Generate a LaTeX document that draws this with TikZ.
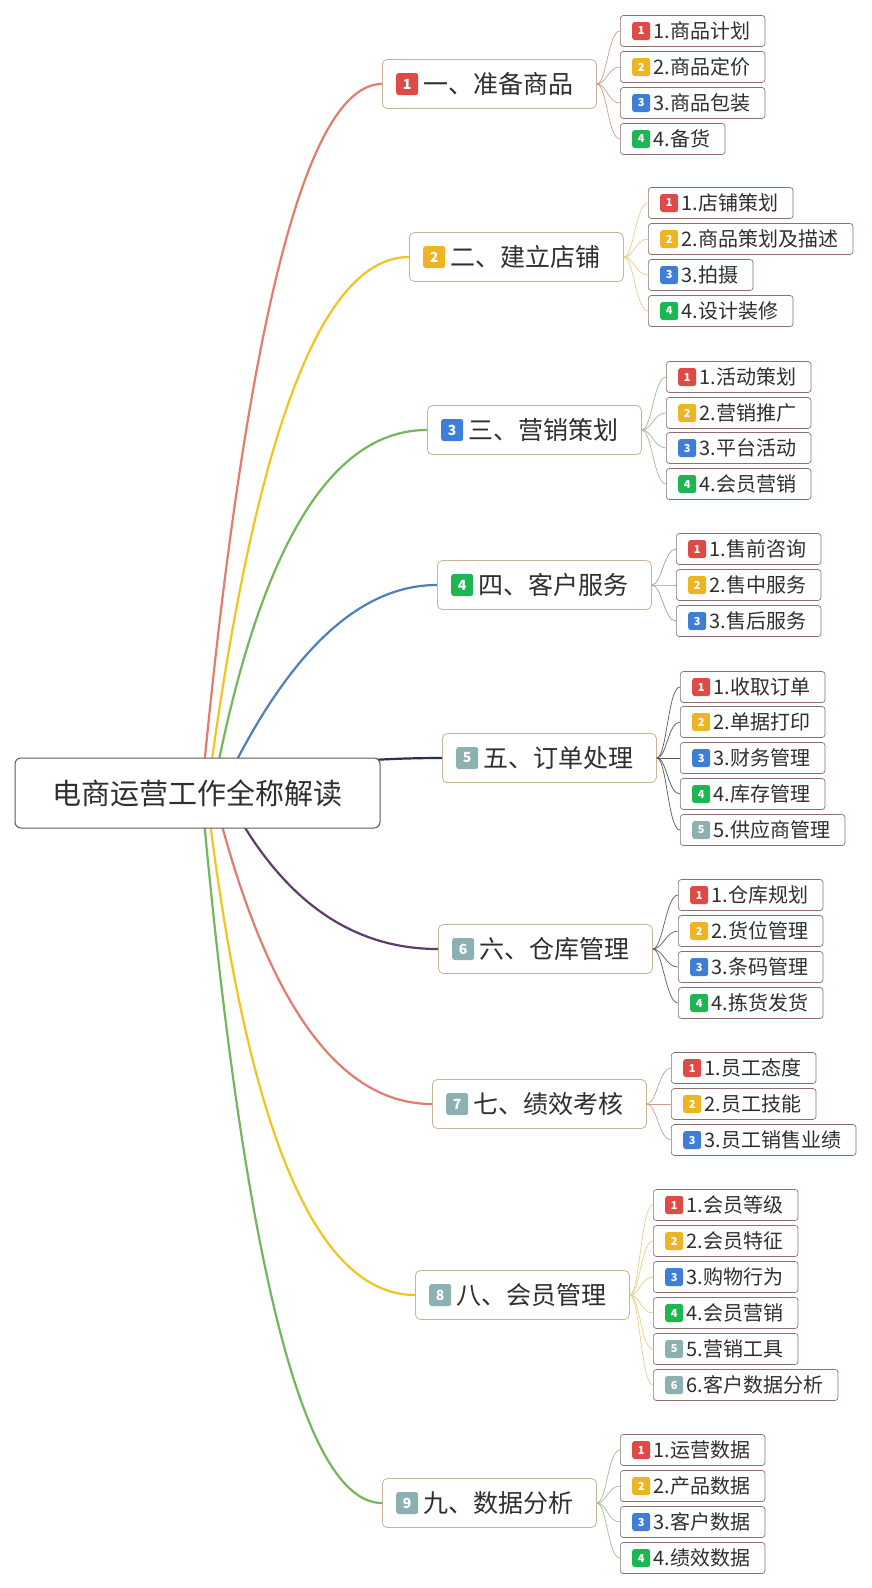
\documentclass[tikz,border=0pt]{standalone}
\usepackage{fontspec}
\setmainfont{Noto Sans CJK SC}
\usepackage{tikz}
\usetikzlibrary{backgrounds}

\definecolor{tagR}{HTML}{DE4B47}
\definecolor{tagY}{HTML}{EDB523}
\definecolor{tagB}{HTML}{3F7ED6}
\definecolor{tagG}{HTML}{1EB653}
\definecolor{tagC}{HTML}{8DB0B0}
\definecolor{ink}{HTML}{2F2F2F}
\definecolor{rootline}{HTML}{5A5A5A}
\definecolor{boxline}{HTML}{C8B596}
\definecolor{leafline}{HTML}{8C7070}
\definecolor{lnA}{HTML}{E37C6F}
\definecolor{lnB}{HTML}{F2C41E}
\definecolor{lnC}{HTML}{76B65A}
\definecolor{lnD}{HTML}{4D80B9}
\definecolor{lnE}{HTML}{2F2D5C}
\definecolor{lnF}{HTML}{5F3B6B}
\definecolor{twA}{HTML}{C9A08E}
\definecolor{twB}{HTML}{E3D08A}
\definecolor{twC}{HTML}{A6B996}
\definecolor{twD}{HTML}{98A0AE}
\definecolor{twE}{HTML}{55555E}
\definecolor{twF}{HTML}{625A6C}

\begin{document}
\begin{tikzpicture}[x=1pt, y=-1pt,
  tag/.style={draw=none, text=white, rounded corners=2.5pt, inner sep=0pt,
    execute at begin node={}, execute at end node={}},
  hub/.style={draw=rootline, line width=1pt, fill=white, rounded corners=6pt,
    minimum width=365pt, minimum height=70pt, text=ink,
    font=\fontsize{29}{34}\selectfont},
  topic/.style 2 args={draw=boxline, line width=0.8pt, fill=white,
    rounded corners=5pt, anchor=west, minimum height=49pt, inner xsep=17pt,
    text=ink, font=\fontsize{25}{30}\selectfont,
    execute at begin node={\hspace*{24pt}}, execute at end node={\hspace*{6pt}},
    label={[tag, fill=#1, minimum size=22pt, anchor=west, xshift=14pt,
      font=\fontsize{14}{14}\selectfont\bfseries]west:#2}},
  leaf/.style 2 args={draw=leafline, line width=0.7pt, fill=white,
    rounded corners=3pt, anchor=west, minimum height=31pt, inner xsep=13pt,
    text=ink, font=\fontsize{20}{24}\selectfont,
    execute at begin node={\hspace*{20pt}}, execute at end node={\hspace*{2pt}},
    label={[tag, fill=#1, minimum size=18pt, anchor=west, xshift=12pt,
      font=\fontsize{11}{11}\selectfont\bfseries]west:#2}},
  bough/.style={line width=2.2pt, #1},
  twig/.style={line width=0.7pt, #1,
    to path={.. controls +(10,0) and +(-12,0) .. (\tikztotarget)}}]

  \useasboundingbox (0,0) rectangle (872,1588);

  \node[hub] (root) at (197.5,793) {电商运营工作全称解读};

  \node[topic={tagR}{1}] (b1) at (382,84) {一、准备商品};
  \node[topic={tagY}{2}] (b2) at (409,257) {二、建立店铺};
  \node[topic={tagB}{3}] (b3) at (427,430) {三、营销策划};
  \node[topic={tagG}{4}] (b4) at (437,585) {四、客户服务};
  \node[topic={tagC}{5}] (b5) at (442,758) {五、订单处理};
  \node[topic={tagC}{6}] (b6) at (438,949) {六、仓库管理};
  \node[topic={tagC}{7}] (b7) at (432,1104) {七、绩效考核};
  \node[topic={tagC}{8}] (b8) at (415,1295) {八、会员管理};
  \node[topic={tagC}{9}] (b9) at (382,1503) {九、数据分析};

  % 一
  \node[leaf={tagR}{1}] (l11) at (620,31) {1.商品计划};
  \node[leaf={tagY}{2}] (l12) at (620,67) {2.商品定价};
  \node[leaf={tagB}{3}] (l13) at (620,103) {3.商品包装};
  \node[leaf={tagG}{4}] (l14) at (620,139) {4.备货};
  % 二
  \node[leaf={tagR}{1}] (l21) at (648,203) {1.店铺策划};
  \node[leaf={tagY}{2}] (l22) at (648,239) {2.商品策划及描述};
  \node[leaf={tagB}{3}] (l23) at (648,275) {3.拍摄};
  \node[leaf={tagG}{4}] (l24) at (648,311) {4.设计装修};
  % 三
  \node[leaf={tagR}{1}] (l31) at (666,377) {1.活动策划};
  \node[leaf={tagY}{2}] (l32) at (666,413) {2.营销推广};
  \node[leaf={tagB}{3}] (l33) at (666,448) {3.平台活动};
  \node[leaf={tagG}{4}] (l34) at (666,484) {4.会员营销};
  % 四
  \node[leaf={tagR}{1}] (l41) at (676,549) {1.售前咨询};
  \node[leaf={tagY}{2}] (l42) at (676,585) {2.售中服务};
  \node[leaf={tagB}{3}] (l43) at (676,621) {3.售后服务};
  % 五
  \node[leaf={tagR}{1}] (l51) at (680,687) {1.收取订单};
  \node[leaf={tagY}{2}] (l52) at (680,722) {2.单据打印};
  \node[leaf={tagB}{3}] (l53) at (680,758) {3.财务管理};
  \node[leaf={tagG}{4}] (l54) at (680,794) {4.库存管理};
  \node[leaf={tagC}{5}] (l55) at (680,830) {5.供应商管理};
  % 六
  \node[leaf={tagR}{1}] (l61) at (678,895) {1.仓库规划};
  \node[leaf={tagY}{2}] (l62) at (678,931) {2.货位管理};
  \node[leaf={tagB}{3}] (l63) at (678,967) {3.条码管理};
  \node[leaf={tagG}{4}] (l64) at (678,1003) {4.拣货发货};
  % 七
  \node[leaf={tagR}{1}] (l71) at (671,1068) {1.员工态度};
  \node[leaf={tagY}{2}] (l72) at (671,1104) {2.员工技能};
  \node[leaf={tagB}{3}] (l73) at (671,1140) {3.员工销售业绩};
  % 八
  \node[leaf={tagR}{1}] (l81) at (653,1205) {1.会员等级};
  \node[leaf={tagY}{2}] (l82) at (653,1241) {2.会员特征};
  \node[leaf={tagB}{3}] (l83) at (653,1277) {3.购物行为};
  \node[leaf={tagG}{4}] (l84) at (653,1313) {4.会员营销};
  \node[leaf={tagC}{5}] (l85) at (653,1349) {5.营销工具};
  \node[leaf={tagC}{6}] (l86) at (653,1385) {6.客户数据分析};
  % 九
  \node[leaf={tagR}{1}] (l91) at (620,1450) {1.运营数据};
  \node[leaf={tagY}{2}] (l92) at (620,1486) {2.产品数据};
  \node[leaf={tagB}{3}] (l93) at (620,1522) {3.客户数据};
  \node[leaf={tagG}{4}] (l94) at (620,1558) {4.绩效数据};

  \begin{scope}[on background layer]
    \fill[white] (0,0) rectangle (872,1588);
    % root to topics
    \draw[bough=lnA] ([xshift=4pt]root.center) .. controls +(44.7,-472.7) and +(-75.3,0) .. (b1.west);
    \draw[bough=lnB] ([xshift=10pt]root.center) .. controls +(46.7,-357.3) and +(-88,0) .. (b2.west);
    \draw[bough=lnC] ([xshift=15pt]root.center) .. controls +(45.3,-242) and +(-98,0) .. (b3.west);
    \draw[bough=lnD] ([xshift=23pt]root.center) .. controls +(65.3,-138.7) and +(-79.3,0) .. (b4.west);
    \draw[bough=lnE] (root.center) .. controls +(62,-23.3) and +(-101.3,0) .. (b5.west);
    \draw[bough=lnF] ([xshift=28pt]root.center) .. controls +(53.3,104.7) and +(-88.7,0) .. (b6.west);
    \draw[bough=lnA] ([xshift=16pt]root.center) .. controls +(51.3,207.3) and +(-94.7,0) .. (b7.west);
    \draw[bough=lnB] ([xshift=9pt]root.center) .. controls +(39.3,334.7) and +(-100,0) .. (b8.west);
    \draw[bough=lnC] ([xshift=4pt]root.center) .. controls +(42.7,473.3) and +(-78,0) .. (b9.west);
  \end{scope}

  % topics to leaves
  \foreach \k in {1,...,4} \draw[twig=twA] (b1.east) to (l1\k.west);
  \foreach \k in {1,...,4} \draw[twig=twB] (b2.east) to (l2\k.west);
  \foreach \k in {1,...,4} \draw[twig=twC] (b3.east) to (l3\k.west);
  \foreach \k in {1,...,3} \draw[twig=twD] (b4.east) to (l4\k.west);
  \foreach \k in {1,...,5} \draw[twig=twE] (b5.east) to (l5\k.west);
  \foreach \k in {1,...,4} \draw[twig=twF] (b6.east) to (l6\k.west);
  \foreach \k in {1,...,3} \draw[twig=twA] (b7.east) to (l7\k.west);
  \foreach \k in {1,...,6} \draw[twig=twB] (b8.east) to (l8\k.west);
  \foreach \k in {1,...,4} \draw[twig=twC] (b9.east) to (l9\k.west);

\end{tikzpicture}
\end{document}
